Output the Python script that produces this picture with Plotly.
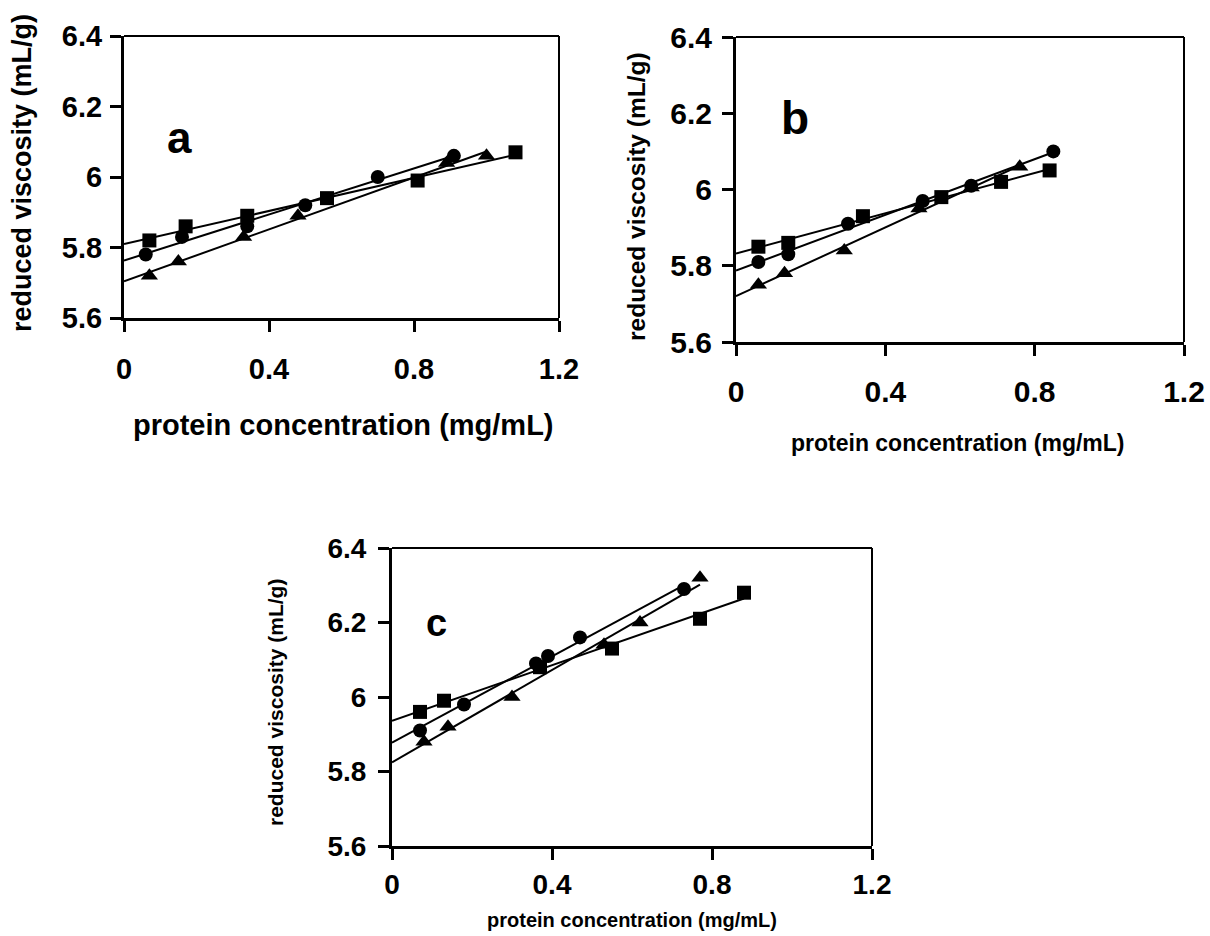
import numpy as np
import plotly.graph_objects as go

W, H = 1210, 936

# ---- data: reduced viscosity vs protein concentration ----
# panel a
a_sq_x = [0.07, 0.17, 0.34, 0.56, 0.81, 1.08]
a_sq_y = [5.82, 5.86, 5.89, 5.94, 5.99, 6.07]
a_ci_x = [0.06, 0.16, 0.34, 0.50, 0.70, 0.91]
a_ci_y = [5.78, 5.83, 5.86, 5.92, 6.00, 6.06]
a_tr_x = [0.07, 0.15, 0.33, 0.48, 0.89, 1.00]
a_tr_y = [5.72, 5.76, 5.83, 5.89, 6.04, 6.06]

# panel b
b_sq_x = [0.06, 0.14, 0.34, 0.55, 0.71, 0.84]
b_sq_y = [5.85, 5.86, 5.93, 5.98, 6.02, 6.05]
b_ci_x = [0.06, 0.14, 0.30, 0.50, 0.63, 0.85]
b_ci_y = [5.81, 5.83, 5.91, 5.97, 6.01, 6.10]
b_tr_x = [0.06, 0.13, 0.29, 0.49, 0.63, 0.76]
b_tr_y = [5.75, 5.78, 5.84, 5.95, 6.005, 6.06]

# panel c
c_sq_x = [0.07, 0.13, 0.37, 0.55, 0.77, 0.88]
c_sq_y = [5.96, 5.99, 6.08, 6.13, 6.21, 6.28]
c_ci_x = [0.07, 0.18, 0.36, 0.39, 0.47, 0.73]
c_ci_y = [5.91, 5.98, 6.09, 6.11, 6.16, 6.29]
c_tr_x = [0.08, 0.14, 0.30, 0.53, 0.62, 0.77]
c_tr_y = [5.88, 5.92, 6.00, 6.14, 6.20, 6.32]

x_ticks = [0, 0.4, 0.8, 1.2]
x_tick_text = ["0", "0.4", "0.8", "1.2"]
y_ticks = [5.6, 5.8, 6.0, 6.2, 6.4]
y_tick_text = ["5.6", "5.8", "6", "6.2", "6.4"]

panel_letters = ["a", "b", "c"]
x_title = "protein concentration (mg/mL)"
y_title = "reduced viscosity (mL/g)"

FONT = "Liberation Sans, Arial, sans-serif"


def px_x(p):
    return p / W


def px_y(p):
    return 1 - p / H


# plot-area boxes in pixels: left, right, top, bottom
boxes = {
    "a": (124, 559, 36, 318),
    "b": (736, 1184, 37, 342),
    "c": (392, 872, 548, 846),
}

panels = {
    "a": [(a_sq_x, a_sq_y, "square"), (a_ci_x, a_ci_y, "circle"), (a_tr_x, a_tr_y, "triangle-up")],
    "b": [(b_sq_x, b_sq_y, "square"), (b_ci_x, b_ci_y, "circle"), (b_tr_x, b_tr_y, "triangle-up")],
    "c": [(c_sq_x, c_sq_y, "square"), (c_ci_x, c_ci_y, "circle"), (c_tr_x, c_tr_y, "triangle-up")],
}

# per-panel text styling
style = {
    "a": dict(tick=29, ytitle=27, xtitle=29, letter=44, xstand=12, ystand=2,
              ytitle_pos=(22, 173), xtitle_pos=(343, 425), letter_pos=(0.154, 6.111)),
    "b": dict(tick=30, ytitle=24.5, xtitle=23, letter=46, xstand=10, ystand=4,
              ytitle_pos=(636, 197), xtitle_pos=(958, 443), letter_pos=(0.158, 6.188)),
    "c": dict(tick=28, ytitle=21, xtitle=20, letter=38, xstand=0, ystand=6,
              ytitle_pos=(275, 703), xtitle_pos=(632, 920), letter_pos=(0.112, 6.2)),
}

fig = go.Figure()
annotations = []
shapes = []

for i, key in enumerate(["a", "b", "c"]):
    suffix = "" if i == 0 else str(i + 1)
    xa, ya = "x" + suffix, "y" + suffix
    for xs, ys, sym in panels[key]:
        xs_arr = np.array(xs)
        ys_arr = np.array(ys)
        slope, icpt = np.polyfit(xs_arr, ys_arr, 1)
        lx = np.array([0.0, xs_arr.max()])
        fig.add_trace(go.Scatter(
            x=lx, y=icpt + slope * lx, mode="lines",
            line=dict(color="black", width=2), xaxis=xa, yaxis=ya,
            showlegend=False, hoverinfo="skip"))
        fig.add_trace(go.Scatter(
            x=xs, y=ys, mode="markers",
            marker=dict(symbol=sym, size=14 if sym != "triangle-up" else 15,
                        color="black", line=dict(width=0)),
            xaxis=xa, yaxis=ya, showlegend=False))

    l, r, t, b = boxes[key]
    st = style[key]
    common = dict(showgrid=False, zeroline=False, showline=True, linecolor="black",
                  linewidth=3, ticks="outside", ticklen=11, tickwidth=2.5,
                  tickcolor="black", automargin=False,
                  tickfont=dict(family=FONT, size=st["tick"], color="black", weight="bold"))
    fig.update_layout(**{
        "xaxis" + suffix: dict(domain=[px_x(l), px_x(r)], range=[0, 1.2],
                               tickvals=x_ticks, ticktext=x_tick_text,
                               anchor=ya, ticklabelstandoff=st["xstand"], **common),
        "yaxis" + suffix: dict(domain=[px_y(b), px_y(t)], range=[5.6, 6.4],
                               tickvals=y_ticks, ticktext=y_tick_text,
                               anchor=xa, ticklabelstandoff=st["ystand"], **common),
    })
    # top and right frame
    shapes.append(dict(type="line", xref="paper", yref="paper",
                       x0=px_x(l), x1=px_x(r), y0=px_y(t), y1=px_y(t),
                       line=dict(color="black", width=2)))
    shapes.append(dict(type="line", xref="paper", yref="paper",
                       x0=px_x(r), x1=px_x(r), y0=px_y(b), y1=px_y(t),
                       line=dict(color="black", width=2)))

    annotations.append(dict(text=y_title, xref="paper", yref="paper",
                            x=px_x(st["ytitle_pos"][0]), y=px_y(st["ytitle_pos"][1]),
                            textangle=-90, showarrow=False, xanchor="center", yanchor="middle",
                            font=dict(family=FONT, size=st["ytitle"], color="black", weight="bold")))
    annotations.append(dict(text=x_title, xref="paper", yref="paper",
                            x=px_x(st["xtitle_pos"][0]), y=px_y(st["xtitle_pos"][1]),
                            showarrow=False, xanchor="center", yanchor="middle",
                            font=dict(family=FONT, size=st["xtitle"], color="black", weight="bold")))
    annotations.append(dict(text=panel_letters[i], xref=xa, yref=ya,
                            x=st["letter_pos"][0], y=st["letter_pos"][1],
                            showarrow=False, xanchor="center", yanchor="middle",
                            font=dict(family=FONT, size=st["letter"], color="black", weight="bold")))

fig.update_layout(width=W, height=H, margin=dict(l=0, r=0, t=0, b=0),
                  paper_bgcolor="white", plot_bgcolor="white",
                  annotations=annotations, shapes=shapes)

fig.write_html("out.html")
